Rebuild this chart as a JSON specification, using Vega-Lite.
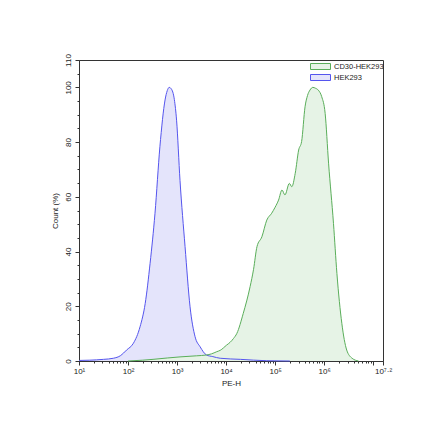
{
  "$schema": "https://vega.github.io/schema/vega-lite/v6.json",
  "width": 304,
  "height": 301,
  "autosize": {"type": "none"},
  "padding": {"left": 79, "top": 60, "right": 57, "bottom": 79},
  "background": "white",
  "config": {
    "view": {"stroke": "#333333", "strokeWidth": 1},
    "font": "Liberation Sans",
    "axis": {"grid": false, "domainColor": "#333333", "tickColor": "#333333", "labelColor": "#222222", "titleColor": "#222222", "labelFont": "Liberation Sans", "titleFont": "Liberation Sans", "labelFontSize": 8, "titleFontSize": 8, "titleFontWeight": "normal"},
    "legend": {"title": null, "orient": "none", "legendX": 236, "legendY": 1, "padding": 0,
      "symbolType": "M-2,-0.6H2V0.6H-2Z", "symbolSize": 100, "symbolStrokeWidth": 1,
      "labelFontSize": 7.5, "labelFont": "Liberation Sans", "labelColor": "#222222",
      "rowPadding": 0, "labelOffset": 8}
  },
  "data": {"values": [
    {"series": "HEK293", "x": 1.0, "y": 0.2},
    {"series": "HEK293", "x": 1.22, "y": 0.3},
    {"series": "HEK293", "x": 1.5, "y": 0.6},
    {"series": "HEK293", "x": 1.7, "y": 1.0},
    {"series": "HEK293", "x": 1.85, "y": 2.0},
    {"series": "HEK293", "x": 1.97, "y": 4.0},
    {"series": "HEK293", "x": 2.11, "y": 6.5},
    {"series": "HEK293", "x": 2.245, "y": 12.5},
    {"series": "HEK293", "x": 2.35, "y": 21},
    {"series": "HEK293", "x": 2.45, "y": 35.7},
    {"series": "HEK293", "x": 2.55, "y": 54},
    {"series": "HEK293", "x": 2.65, "y": 78.3},
    {"series": "HEK293", "x": 2.755, "y": 95.4},
    {"series": "HEK293", "x": 2.8, "y": 98.8},
    {"series": "HEK293", "x": 2.84, "y": 100},
    {"series": "HEK293", "x": 2.88, "y": 99.5},
    {"series": "HEK293", "x": 2.945, "y": 95.5},
    {"series": "HEK293", "x": 2.99, "y": 88},
    {"series": "HEK293", "x": 3.06, "y": 66},
    {"series": "HEK293", "x": 3.163, "y": 41.8},
    {"series": "HEK293", "x": 3.265, "y": 19.8},
    {"series": "HEK293", "x": 3.367, "y": 8.9},
    {"series": "HEK293", "x": 3.47, "y": 5.2},
    {"series": "HEK293", "x": 3.6, "y": 2.2},
    {"series": "HEK293", "x": 3.73, "y": 1.6},
    {"series": "HEK293", "x": 3.88, "y": 1.0},
    {"series": "HEK293", "x": 4.29, "y": 0.6},
    {"series": "HEK293", "x": 4.83, "y": 0.1},
    {"series": "HEK293", "x": 5.3, "y": 0},
    {"series": "CD30-HEK293", "x": 2.0, "y": 0},
    {"series": "CD30-HEK293", "x": 2.3, "y": 0.3},
    {"series": "CD30-HEK293", "x": 2.51, "y": 0.6},
    {"series": "CD30-HEK293", "x": 2.8, "y": 1.1},
    {"series": "CD30-HEK293", "x": 3.06, "y": 1.5},
    {"series": "CD30-HEK293", "x": 3.4, "y": 1.9},
    {"series": "CD30-HEK293", "x": 3.6, "y": 2.2},
    {"series": "CD30-HEK293", "x": 3.7, "y": 2.6},
    {"series": "CD30-HEK293", "x": 3.81, "y": 3.4},
    {"series": "CD30-HEK293", "x": 3.88, "y": 3.9},
    {"series": "CD30-HEK293", "x": 4.01, "y": 5.8},
    {"series": "CD30-HEK293", "x": 4.08, "y": 6.8},
    {"series": "CD30-HEK293", "x": 4.15, "y": 8.2},
    {"series": "CD30-HEK293", "x": 4.22, "y": 10.1},
    {"series": "CD30-HEK293", "x": 4.35, "y": 17.4},
    {"series": "CD30-HEK293", "x": 4.49, "y": 27.2},
    {"series": "CD30-HEK293", "x": 4.56, "y": 33.5},
    {"series": "CD30-HEK293", "x": 4.63, "y": 41.8},
    {"series": "CD30-HEK293", "x": 4.73, "y": 45.4},
    {"series": "CD30-HEK293", "x": 4.83, "y": 51.5},
    {"series": "CD30-HEK293", "x": 4.93, "y": 54},
    {"series": "CD30-HEK293", "x": 5.0, "y": 56.2},
    {"series": "CD30-HEK293", "x": 5.07, "y": 58.8},
    {"series": "CD30-HEK293", "x": 5.14, "y": 62.5},
    {"series": "CD30-HEK293", "x": 5.2, "y": 60.7},
    {"series": "CD30-HEK293", "x": 5.29, "y": 64.9},
    {"series": "CD30-HEK293", "x": 5.34, "y": 63.7},
    {"series": "CD30-HEK293", "x": 5.41, "y": 68.6},
    {"series": "CD30-HEK293", "x": 5.48, "y": 77.1},
    {"series": "CD30-HEK293", "x": 5.54, "y": 80.2},
    {"series": "CD30-HEK293", "x": 5.61, "y": 92.9},
    {"series": "CD30-HEK293", "x": 5.66, "y": 97},
    {"series": "CD30-HEK293", "x": 5.71, "y": 99},
    {"series": "CD30-HEK293", "x": 5.77, "y": 100},
    {"series": "CD30-HEK293", "x": 5.82, "y": 99.7},
    {"series": "CD30-HEK293", "x": 5.88, "y": 99},
    {"series": "CD30-HEK293", "x": 5.95, "y": 96.6},
    {"series": "CD30-HEK293", "x": 6.02, "y": 90.5},
    {"series": "CD30-HEK293", "x": 6.09, "y": 72.3},
    {"series": "CD30-HEK293", "x": 6.19, "y": 50.3},
    {"series": "CD30-HEK293", "x": 6.26, "y": 32},
    {"series": "CD30-HEK293", "x": 6.36, "y": 13.8},
    {"series": "CD30-HEK293", "x": 6.46, "y": 4},
    {"series": "CD30-HEK293", "x": 6.57, "y": 1},
    {"series": "CD30-HEK293", "x": 6.7, "y": 0}
  ]},
  "encoding": {
    "x": {"field": "x", "type": "quantitative",
      "scale": {"domain": [1, 7.2], "nice": false, "zero": false},
      "axis": {
        "title": "PE-H", "titlePadding": 4,
        "values": [1, 1.301, 1.477, 1.602, 1.699, 1.778, 1.845, 1.903, 1.954, 2, 2.301, 2.477, 2.602, 2.699, 2.778, 2.845, 2.903, 2.954, 3, 3.301, 3.477, 3.602, 3.699, 3.778, 3.845, 3.903, 3.954, 4, 4.301, 4.477, 4.602, 4.699, 4.778, 4.845, 4.903, 4.954, 5, 5.301, 5.477, 5.602, 5.699, 5.778, 5.845, 5.903, 5.954, 6, 6.301, 6.477, 6.602, 6.699, 6.778, 6.845, 6.903, 6.954, 7, 7.2],
        "labelExpr": "datum.value == 1 ? '10¹' : datum.value == 2 ? '10²' : datum.value == 3 ? '10³' : datum.value == 4 ? '10⁴' : datum.value == 5 ? '10⁵' : datum.value == 6 ? '10⁶' : datum.value == 7.2 ? '10⁷·²' : ''",
        "tickSize": {"condition": {"test": "datum.value == floor(datum.value) || datum.value == 7.2", "value": 4}, "value": 2},
        "labelPadding": 2, "labelFlush": false, "labelOverlap": false
      }},
    "y": {"field": "y", "type": "quantitative", "stack": null,
      "scale": {"domain": [0, 110], "nice": false},
      "axis": {
        "title": "Count  (%)", "titlePadding": 5,
        "values": [0, 5, 10, 15, 20, 25, 30, 35, 40, 45, 50, 55, 60, 65, 70, 75, 80, 85, 90, 95, 100, 105, 110],
        "labelExpr": "(datum.value % 20 == 0 || datum.value == 110) ? datum.label : ''",
        "tickSize": {"condition": {"test": "datum.value % 20 == 0 || datum.value == 110", "value": 4}, "value": 2},
        "labelAngle": -90, "labelAlign": "center", "labelBaseline": "bottom", "labelPadding": 3, "labelFlush": false, "labelOverlap": false
      }}
  },
  "layer": [
    {
      "mark": {"type": "area", "interpolate": "monotone"},
      "encoding": {
        "fill": {"field": "series", "type": "nominal",
          "scale": {"domain": ["CD30-HEK293", "HEK293"], "range": ["#e6f3e6", "#e4e4fb"]}}
      }
    },
    {
      "mark": {"type": "line", "interpolate": "monotone", "strokeWidth": 1},
      "encoding": {
        "stroke": {"field": "series", "type": "nominal",
          "scale": {"domain": ["CD30-HEK293", "HEK293"], "range": ["#5aae5a", "#5555ee"]}}
      }
    }
  ]
}
